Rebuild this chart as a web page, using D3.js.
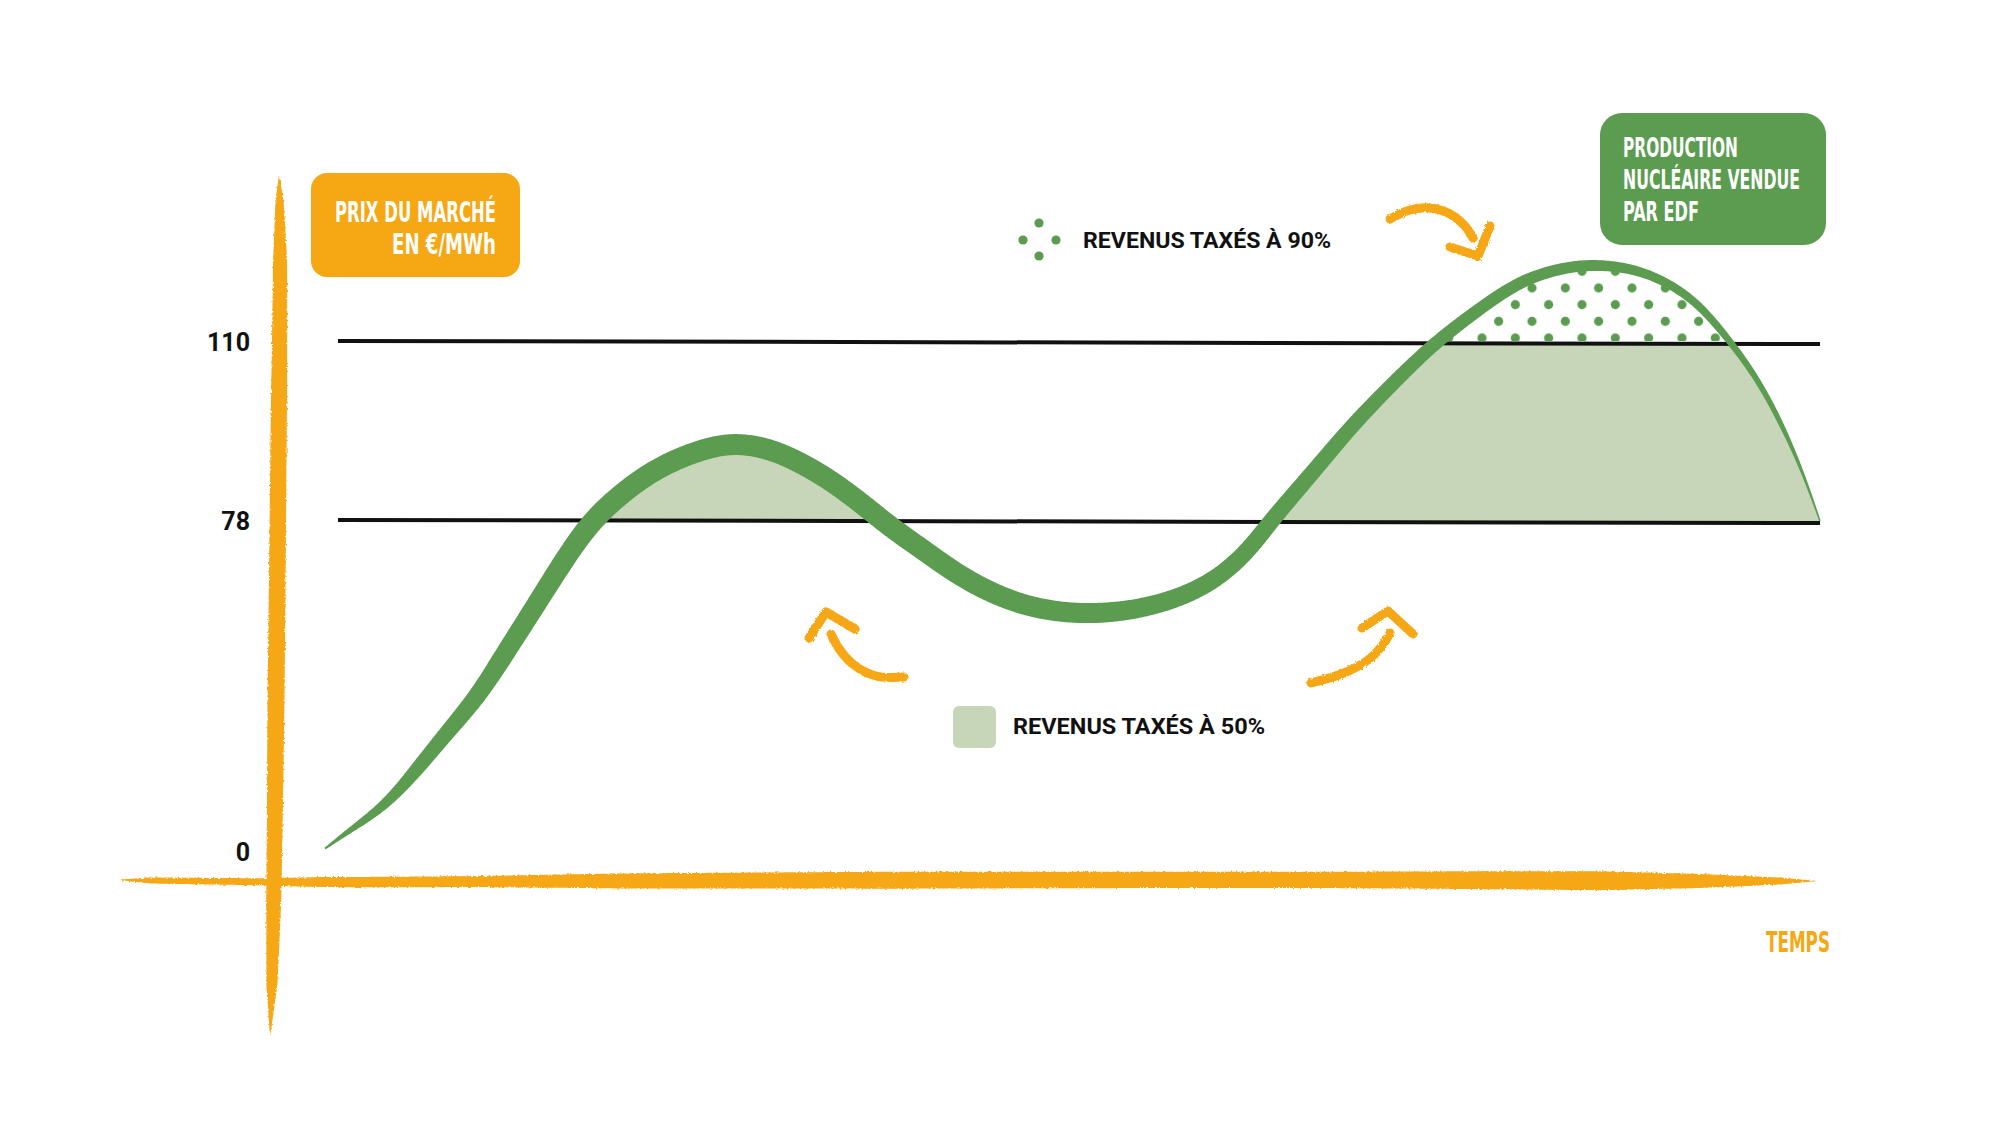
<!DOCTYPE html>
<html><head><meta charset="utf-8">
<script src="https://cdn.jsdelivr.net/npm/d3@7"></script>
<style>
html,body{margin:0;padding:0;background:#fff;}
svg{display:block;}
</style></head>
<body>
<svg id="chart" width="1999" height="1143"></svg>
<script>
// ---------------- DATA ----------------
const timeSteps   = [0,1.7,3.9,5.8,7.9,10.2,11.9,13.9,15.7,17.5,19.3,21.9,24.6,27.1,29.6,31.8,34.0,36.3,37.8,40.3,42.8,46.6,51.0,55.6,59.5,62.0,63.2,66.4,68.6,71.2,74.1,77.0,79.5,81.7,84.4,87.3,89.5,91.8,94.1,96.2,98.5,100];
const marketPrice = [0.8,5.2,10.6,17.9,27.1,36.5,46.0,57.0,67.2,76.6,81.8,87.1,90.3,92.1,91.1,88.5,85.0,80.3,76.6,70.5,64.1,57.7,55.6,57.7,63.4,71.9,77.8,87.7,94.8,102.0,109.6,115.5,120.2,122.6,124.0,123.3,121.1,117.2,109.8,102.0,89.4,78];
const thresholds  = [78, 110];
const yTickValues = [0, 78, 110];
const yTickLabels = ["0", "78", "110"];
const legendLabels = ["REVENUS TAXÉS À 90%", "REVENUS TAXÉS À 50%"];
const yTitleLines = ["PRIX DU MARCHÉ", "EN €/MWh"];
const boxLines = ["PRODUCTION", "NUCLÉAIRE VENDUE", "PAR EDF"];
const xTitle = "TEMPS";

// ---------------- STYLE ----------------
const GREEN = "#5b9c51", LIGHT = "#c7d6b9", ORANGE = "#f6a714", INK = "#111";
const CONDENSED = "'Liberation Sans Narrow','DejaVu Sans Condensed','Roboto Condensed',sans-serif";

const svg = d3.select("#chart");
const defs = svg.append("defs");

const x = d3.scaleLinear().domain([0, 100]).range([325, 1820]);
const y = d3.scaleLinear().domain([0, 78, 110]).range([852, 521, 342]);

const series = timeSteps.map((t, i) => ({t, v: marketPrice[i]}));
const curve = d3.curveBasis;
const smooth = d3.curveCatmullRom.alpha(0.5);

// clip paths & pattern
defs.append("clipPath").attr("id", "band").append("rect")
  .attr("x", 0).attr("y", y(110)).attr("width", 1999).attr("height", y(78) - y(110));
defs.append("clipPath").attr("id", "top").append("rect")
  .attr("x", 0).attr("y", 0).attr("width", 1999).attr("height", y(110) - 1);
const pat = defs.append("pattern").attr("id", "dots").attr("patternUnits", "userSpaceOnUse")
  .attr("width", 33.33).attr("height", 33.33).attr("x", 1482 - 8.33).attr("y", 338 - 8.33);
pat.append("circle").attr("cx", 8.33).attr("cy", 8.33).attr("r", 4.6).attr("fill", GREEN);
pat.append("circle").attr("cx", 24.99).attr("cy", 24.99).attr("r", 4.6).attr("fill", GREEN);

const rough = defs.append("filter").attr("id", "rough").attr("x", "-5%").attr("y", "-5%").attr("width", "110%").attr("height", "110%");
rough.append("feTurbulence").attr("type", "fractalNoise").attr("baseFrequency", 0.45).attr("numOctaves", 2).attr("seed", 3).attr("result", "n");
rough.append("feDisplacementMap").attr("in", "SourceGraphic").attr("in2", "n").attr("scale", 3);

// helper: variable-width ribbon along a sampled path
function samplePath(d, step) {
  const p = svg.append("path").attr("d", d).attr("fill", "none");
  const node = p.node(), L = node.getTotalLength(), pts = [];
  for (let s = 0; s < L; s += step) { const q = node.getPointAtLength(s); pts.push([q.x, q.y]); }
  const q = node.getPointAtLength(L); pts.push([q.x, q.y]);
  p.remove();
  return pts;
}
function ribbon(pts, wFn) {
  const left = [], right = [], n = pts.length;
  for (let i = 0; i < n; i++) {
    const a = pts[Math.max(0, i - 2)], b = pts[Math.min(n - 1, i + 2)];
    const dx = b[0] - a[0], dy = b[1] - a[1], len = Math.hypot(dx, dy) || 1;
    const nx = -dy / len, ny = dx / len, w = wFn(pts[i]) / 2;
    left.push([pts[i][0] + nx * w, pts[i][1] + ny * w]);
    right.push([pts[i][0] - nx * w, pts[i][1] - ny * w]);
  }
  return "M" + left.concat(right.reverse()).map(p => p[0].toFixed(2) + "," + p[1].toFixed(2)).join("L") + "Z";
}

// ---------------- AXES (brush strokes) ----------------
const plotBottom = 881, axisX = 275;
const yAxisPts = samplePath(d3.line().curve(smooth)([[279, 175], [280, 250], [278, 500], [276, 700], [axisX - 1, plotBottom], [272, 980], [270, 1037]]), 2);
const yAxisW = d3.scaleLinear().domain([175, 200, 260, 400, 700, 900, 985, 1037]).range([0, 8, 14, 16, 17, 15, 11, 0]).clamp(true);
svg.append("path").attr("d", ribbon(yAxisPts, p => yAxisW(p[1]))).attr("fill", ORANGE).attr("filter", "url(#rough)");

const xAxisPts = samplePath(d3.line().curve(smooth)([[121, 880], [300, 882], [600, 881], [1000, 880], [1400, 880], [1700, 881], [1817, 881]]), 2);
const xAxisW = d3.scaleLinear().domain([121, 150, 260, 320, 480, 620, 900, 1300, 1600, 1700, 1780, 1817]).range([1, 6, 7, 10, 11, 15, 17, 16, 19, 14, 7, 0]).clamp(true);
svg.append("path").attr("d", ribbon(xAxisPts, p => xAxisW(p[0]))).attr("fill", ORANGE).attr("filter", "url(#rough)");

// ---------------- FILLS ----------------
const area = d3.area().x(d => x(d.t)).y0(y(78)).y1(d => y(d.v)).curve(curve);
svg.append("path").datum(series).attr("d", area).attr("fill", LIGHT).attr("clip-path", "url(#band)");
svg.append("path").datum(series).attr("d", area).attr("fill", "url(#dots)").attr("clip-path", "url(#top)");

// ---------------- THRESHOLD LINES ----------------
svg.selectAll("line.th").data(thresholds).join("line").attr("class", "th")
  .attr("x1", x(0) + 13).attr("x2", x(100)).attr("y1", d => y(d) - 1).attr("y2", d => y(d) + 2)
  .attr("stroke", INK).attr("stroke-width", 4);

// ---------------- PRICE CURVE ----------------
const line = d3.line().x(d => x(d.t)).y(d => y(d.v)).curve(curve);
const curvePts = samplePath(line(series), 1.5);
const curveW = d3.scaleLinear()
  .domain([325, 360, 420, 500, 600, 900, 1100, 1250, 1350, 1450, 1590, 1700, 1780, 1820])
  .range([2, 7, 14, 19, 21, 21, 20, 17, 15, 13, 11, 8, 5, 1.5]).clamp(true);
svg.append("path").attr("d", ribbon(curvePts, p => curveW(p[0]))).attr("fill", GREEN);

// ---------------- Y TICK LABELS ----------------
svg.selectAll("text.tick").data(yTickValues).join("text").attr("class", "tick")
  .attr("x", 250).attr("y", d => y(d) + 9).attr("text-anchor", "end")
  .attr("font-family", "Roboto, sans-serif").attr("font-weight", 700).attr("font-size", 25).attr("fill", INK)
  .text((d, i) => yTickLabels[i]);

// ---------------- Y TITLE BOX ----------------
svg.append("rect").attr("x", 311).attr("y", 173).attr("width", 209).attr("height", 104).attr("rx", 16).attr("fill", ORANGE);
const yTitleW = [161, 104];
svg.selectAll("text.yt").data(yTitleLines).join("text").attr("class", "yt")
  .attr("x", 496).attr("y", (d, i) => 222 + i * 31.5).attr("text-anchor", "end")
  .attr("font-family", CONDENSED).attr("font-weight", 700).attr("font-size", 29).attr("fill", "#fff")
  .attr("textLength", (d, i) => yTitleW[i]).attr("lengthAdjust", "spacingAndGlyphs")
  .text(d => d);

// ---------------- PRODUCTION BOX ----------------
svg.append("rect").attr("x", 1600).attr("y", 113).attr("width", 226).attr("height", 132).attr("rx", 22).attr("fill", GREEN);
const boxW = [115, 177, 76];
svg.selectAll("text.bx").data(boxLines).join("text").attr("class", "bx")
  .attr("x", 1623).attr("y", (d, i) => 157 + i * 32)
  .attr("font-family", CONDENSED).attr("font-weight", 700).attr("font-size", 27).attr("fill", "#fff")
  .attr("textLength", (d, i) => boxW[i]).attr("lengthAdjust", "spacingAndGlyphs")
  .text(d => d);

// ---------------- X TITLE ----------------
svg.append("text").attr("x", 1766).attr("y", 952)
  .attr("font-family", CONDENSED).attr("font-weight", 700).attr("font-size", 29).attr("fill", ORANGE)
  .attr("textLength", 64).attr("lengthAdjust", "spacingAndGlyphs").text(xTitle);

// ---------------- LEGENDS ----------------
const lg90 = svg.append("g");
[[1039, 223], [1023, 240], [1056, 240], [1039, 256]].forEach(p =>
  lg90.append("circle").attr("cx", p[0]).attr("cy", p[1]).attr("r", 4.6).attr("fill", GREEN));
lg90.append("text").attr("x", 1083).attr("y", 248)
  .attr("font-family", "Roboto, sans-serif").attr("font-weight", 700).attr("font-size", 22).attr("fill", INK)
  .attr("textLength", 248).attr("lengthAdjust", "spacingAndGlyphs")
  .text(legendLabels[0]);
const lg50 = svg.append("g");
lg50.append("rect").attr("x", 953).attr("y", 706).attr("width", 43).attr("height", 42).attr("rx", 6).attr("fill", LIGHT);
lg50.append("text").attr("x", 1013).attr("y", 734)
  .attr("font-family", "Roboto, sans-serif").attr("font-weight", 700).attr("font-size", 22).attr("fill", INK)
  .attr("textLength", 252).attr("lengthAdjust", "spacingAndGlyphs")
  .text(legendLabels[1]);

// ---------------- ARROWS ----------------
const arrows = [
  {shaft: [[1390, 219], [1410, 210], [1430, 208], [1450, 214], [1464, 225], [1473, 238]],
   head: [[1450, 247], [1478, 256], [1490, 226]]},
  {shaft: [[904, 677], [876, 676], [854, 665], [840, 650], [831, 634]],
   head: [[809, 638], [826, 612], [855, 629]]},
  {shaft: [[1311, 683], [1344, 673], [1368, 660], [1382, 646], [1390, 633]],
   head: [[1362, 628], [1388, 611], [1413, 634]]}
];
const arrowG = svg.append("g").attr("filter", "url(#rough)");
arrows.forEach(a => {
  arrowG.append("path").attr("d", d3.line().curve(smooth)(a.shaft)).attr("fill", "none")
    .attr("stroke", ORANGE).attr("stroke-width", 9).attr("stroke-linecap", "round");
  arrowG.append("path").attr("d", d3.line()(a.head)).attr("fill", "none")
    .attr("stroke", ORANGE).attr("stroke-width", 9).attr("stroke-linecap", "round").attr("stroke-linejoin", "round");
});
</script>
</body></html>
